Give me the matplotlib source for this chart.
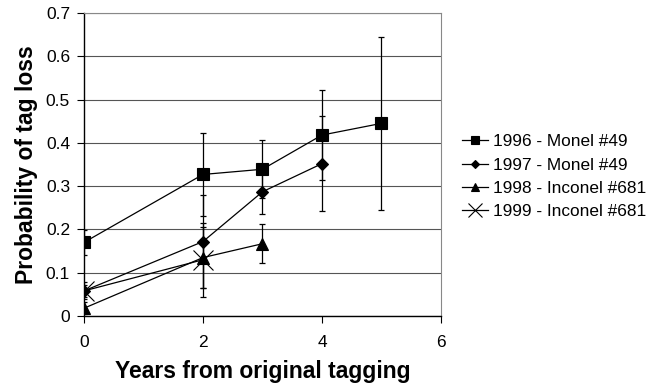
import matplotlib
matplotlib.use("Agg")
import matplotlib.pyplot as plt
import numpy as np

plt.rcParams['font.family'] = ['Liberation Sans', 'DejaVu Sans']

labels = ["1996 - Monel #49", "1997 - Monel #49", "1998 - Inconel #681", "1999 - Inconel #681"]
x1996 = [0, 2, 3, 4, 5]
y1996 = [0.170, 0.327, 0.339, 0.418, 0.445]
lo1996 = [0.140, 0.231, 0.272, 0.314, 0.246]
hi1996 = [0.198, 0.423, 0.406, 0.522, 0.644]

x1997 = [0, 2, 3, 4]
y1997 = [0.058, 0.172, 0.287, 0.352]
lo1997 = [0.040, 0.065, 0.235, 0.243]
hi1997 = [0.078, 0.279, 0.337, 0.462]

x1998 = [0, 2, 3]
y1998 = [0.018, 0.135, 0.167]
lo1998 = [0.005, 0.065, 0.122]
hi1998 = [0.032, 0.206, 0.212]

x1999 = [0, 2]
y1999 = [0.058, 0.130]
lo1999 = [0.045, 0.045]
hi1999 = [0.072, 0.215]

series = [
    (x1996, y1996, lo1996, hi1996, 's', 8),
    (x1997, y1997, lo1997, hi1997, 'D', 6),
    (x1998, y1998, lo1998, hi1998, '^', 8.5),
    (x1999, y1999, lo1999, hi1999, 'x', 14),
]

fig = plt.figure(figsize=(6.53, 3.90), dpi=100)
ax = fig.add_axes([0.1286, 0.1897, 0.5467, 0.777])

for (xs, ys, lo, hi, m, ms), lab in zip(series, labels):
    ys_a = np.array(ys)
    err = np.vstack([ys_a - np.array(lo), np.array(hi) - ys_a])
    ax.errorbar(xs, ys, yerr=err, fmt='none', ecolor='black', elinewidth=0.9,
                capsize=2.5, capthick=0.9, zorder=2)
    ax.plot(xs, ys, color='black', lw=0.9, marker=m, markersize=ms,
            markerfacecolor='black', markeredgecolor='black', markeredgewidth=0.8,
            label=lab, zorder=3)

ax.set_xlim(0, 6)
ax.set_ylim(0, 0.7)
ax.set_xticks([0, 2, 4, 6])
ax.set_yticks([0, 0.1, 0.2, 0.3, 0.4, 0.5, 0.6, 0.7])
ax.set_yticklabels(['0', '0.1', '0.2', '0.3', '0.4', '0.5', '0.6', '0.7'])
ax.yaxis.grid(True, color='#555555', lw=0.8)
ax.set_axisbelow(True)
ax.tick_params(direction='out', length=5, width=0.8, labelsize=12.5, colors='black')
ax.tick_params(axis='x', pad=9)
ax.tick_params(axis='y', pad=5)
for s in ['top', 'right']:
    ax.spines[s].set_color('#888888')
    ax.spines[s].set_linewidth(0.8)
for s in ['left', 'bottom']:
    ax.spines[s].set_color('black')
    ax.spines[s].set_linewidth(1.0)

ax.set_xlabel('Years from original tagging', fontsize=16.5, fontweight='bold', labelpad=7)
ax.set_ylabel('Probability of tag loss', fontsize=16.5, fontweight='bold', labelpad=6)

leg = ax.legend(loc='center left', bbox_to_anchor=(1.058, 0.46), frameon=False,
                fontsize=12.4, handlelength=1.5, handletextpad=0.3, labelspacing=0.47,
                borderaxespad=0, borderpad=0, markerscale=0.7)

fig.savefig('out.png', dpi=100)
